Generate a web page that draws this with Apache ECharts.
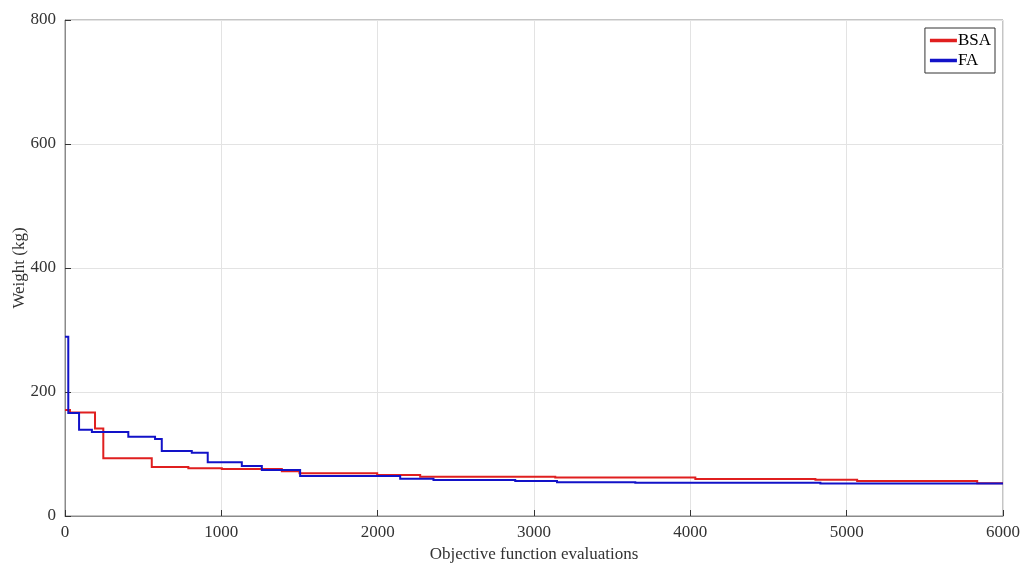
<!DOCTYPE html>
<html>
<head>
<meta charset="utf-8">
<script src="https://cdn.jsdelivr.net/npm/echarts@6/dist/echarts.min.js"></script>
<style>
html,body{margin:0;padding:0;background:#fff;}
#chart{width:1024px;height:566px;}
</style>
</head>
<body>
<div id="chart"></div>
<script>
// Data
const xTicks = [0, 1000, 2000, 3000, 4000, 5000, 6000];
const yTicks = [0, 200, 400, 600, 800];

const bsaX = [0, 32, 192, 245, 555, 789, 1003, 1387, 1500, 1997, 2272, 3136, 4032, 4800, 5067, 5835, 6000];
const bsaY = [171, 167, 141, 93, 79, 77, 76, 72, 69, 66, 63.5, 62, 59.5, 58.5, 56.5, 53, 53];

const faX = [0, 21, 90, 172, 405, 576, 619, 811, 913, 1131, 1259, 1504, 2144, 2357, 2880, 3147, 3648, 4832, 6000];
const faY = [289, 166, 139, 135.5, 128, 124, 105, 102, 86.5, 80.5, 74, 64.5, 60, 58, 56.5, 54.5, 53.5, 52.5, 52.5];

// staircase: each value holds until the next evaluation count
function stairs(xs, ys) {
  const out = [];
  for (let i = 0; i < xs.length; i++) {
    out.push([xs[i], ys[i]]);
    if (i + 1 < xs.length) out.push([xs[i + 1], ys[i]]);
  }
  return out;
}

const RED = '#e01f1f', BLUE = '#1212c8';
const chart = echarts.init(document.getElementById('chart'), null, {renderer: 'canvas'});
const font = 'Liberation Serif';
chart.setOption({
  backgroundColor: '#fff',
  animation: false,
  textStyle: {fontFamily: font},
  grid: {left: 65, right: 21, top: 20, bottom: 50, containLabel: false, outerBoundsMode: 'none',
         show: true, borderColor: '#8a8a8a', borderWidth: 1, backgroundColor: 'transparent'},
  legend: {
    orient: 'vertical', right: 29, top: 28,
    borderColor: '#333', borderWidth: 1, padding: [4, 4, 4, 5],
    itemWidth: 25, itemHeight: 1.5, itemGap: 3,
    textStyle: {fontFamily: font, fontSize: 17, lineHeight: 17, color: '#000', padding: [0, 0, 0, -3]},
    data: [{name: 'BSA', icon: 'rect', itemStyle: {color: RED}}, {name: 'FA', icon: 'rect', itemStyle: {color: BLUE}}]
  },
  xAxis: {
    type: 'value', min: 0, max: 6000, interval: 1000,
    name: 'Objective function evaluations', nameLocation: 'middle', nameGap: 30, nameMoveOverlap: false,
    nameTextStyle: {fontFamily: font, fontSize: 17, color: '#333'},
    axisLine: {show: true, lineStyle: {color: '#8a8a8a'}},
    axisTick: {show: true, inside: true, length: 6, lineStyle: {color: '#333'}},
    axisLabel: {fontFamily: font, fontSize: 17, color: '#333', margin: 8, formatter: v => String(v)},
    splitLine: {show: true, lineStyle: {color: '#e3e3e3'}}
  },
  yAxis: {
    type: 'value', min: 0, max: 800, interval: 200,
    name: 'Weight (kg)', nameLocation: 'middle', nameGap: 37, nameMoveOverlap: false,
    nameTextStyle: {fontFamily: font, fontSize: 17, color: '#333'},
    axisLine: {show: true, lineStyle: {color: '#8a8a8a'}},
    axisTick: {show: true, inside: true, length: 6, lineStyle: {color: '#333'}},
    axisLabel: {fontFamily: font, fontSize: 17, color: '#333', margin: 9},
    splitLine: {show: true, lineStyle: {color: '#e3e3e3'}}
  },
  series: [
    {name: 'BSA', type: 'lines', coordinateSystem: 'cartesian2d', polyline: true,
     color: RED, lineStyle: {color: RED, width: 2, opacity: 1},
     data: [{coords: stairs(bsaX, bsaY)}]},
    {name: 'FA', type: 'lines', coordinateSystem: 'cartesian2d', polyline: true,
     color: BLUE, lineStyle: {color: BLUE, width: 2, opacity: 1},
     data: [{coords: stairs(faX, faY)}]}
  ]
});
</script>
</body>
</html>
